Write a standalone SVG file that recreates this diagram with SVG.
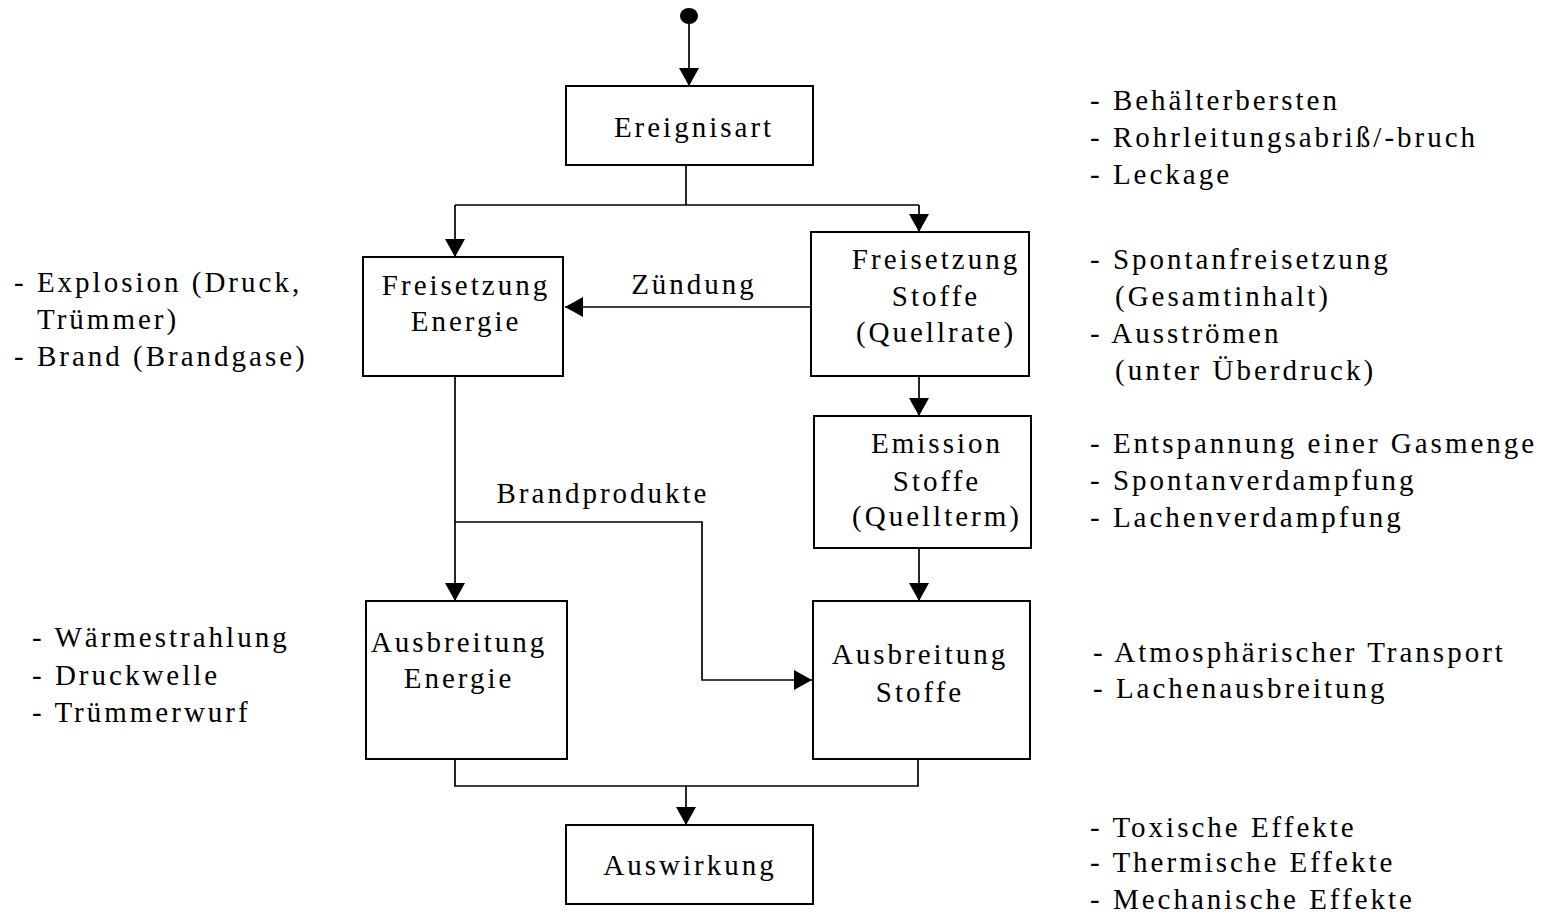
<svg xmlns="http://www.w3.org/2000/svg" width="1542" height="915" viewBox="0 0 1542 915">
<style>
text{font-family:"Liberation Serif","Times New Roman",serif;font-size:29px;letter-spacing:3px;fill:#000}
.c{text-anchor:middle}
.box{fill:#fff;stroke:#000;stroke-width:2}
.ln{fill:none;stroke:#000;stroke-width:1.7}
</style>
<defs>
<marker id="ah" markerUnits="userSpaceOnUse" markerWidth="18" markerHeight="20" viewBox="0 0 18 20" refX="18" refY="10" orient="auto">
<path d="M0,0 L18,10 L0,20 z" fill="#000"/>
</marker>
</defs>
<rect width="1542" height="915" fill="#fff"/>
<g id="connectors">
<ellipse cx="689" cy="16" rx="9" ry="8" fill="#000"/>
<path class="ln" d="M689,24 V86" marker-end="url(#ah)"/>
<path class="ln" d="M686,165 V205 M455,205 H919"/>
<path class="ln" d="M455,205 V257" marker-end="url(#ah)"/>
<path class="ln" d="M919,205 V232" marker-end="url(#ah)"/>
<path class="ln" d="M813,307 H565" marker-end="url(#ah)"/>
<path class="ln" d="M919,376 V416" marker-end="url(#ah)"/>
<path class="ln" d="M919,548 V601" marker-end="url(#ah)"/>
<path class="ln" d="M455,376 V601" marker-end="url(#ah)"/>
<path class="ln" d="M455,522 H702 V680 H812" marker-end="url(#ah)"/>
<path class="ln" d="M455,759 V786 H918 V759"/>
<path class="ln" d="M686,786 V825" marker-end="url(#ah)"/>
<text x="694" y="294" class="c">Zündung</text>
<text x="603" y="503" class="c">Brandprodukte</text>
</g>
<g id="ereignisart">
<rect class="box" x="566" y="86" width="247" height="79"/>
<text x="694" y="137" class="c">Ereignisart</text>
</g>
<g id="freisetzung-energie">
<rect class="box" x="363" y="257" width="200" height="119"/>
<text x="466" y="295" class="c">Freisetzung</text>
<text x="466" y="331" class="c">Energie</text>
</g>
<g id="freisetzung-stoffe">
<rect class="box" x="811" y="232" width="218" height="144"/>
<text x="936" y="269" class="c">Freisetzung</text>
<text x="936" y="306" class="c">Stoffe</text>
<text x="936" y="342" class="c">(Quellrate)</text>
</g>
<g id="emission-stoffe">
<rect class="box" x="814" y="416" width="217" height="132"/>
<text x="937" y="453" class="c">Emission</text>
<text x="937" y="491" class="c">Stoffe</text>
<text x="937" y="526" class="c">(Quellterm)</text>
</g>
<g id="ausbreitung-energie">
<rect class="box" x="366" y="601" width="201" height="158"/>
<text x="459" y="652" class="c">Ausbreitung</text>
<text x="459" y="688" class="c">Energie</text>
</g>
<g id="ausbreitung-stoffe">
<rect class="box" x="813" y="601" width="217" height="158"/>
<text x="920" y="664" class="c">Ausbreitung</text>
<text x="920" y="702" class="c">Stoffe</text>
</g>
<g id="auswirkung">
<rect class="box" x="566" y="825" width="247" height="79"/>
<text x="690" y="875" class="c">Auswirkung</text>
</g>
<g id="notes-left">
<text x="14" y="292">- Explosion (Druck,</text>
<text x="37" y="329">Trümmer)</text>
<text x="14" y="366">- Brand (Brandgase)</text>
<text x="32" y="647">- Wärmestrahlung</text>
<text x="32" y="685">- Druckwelle</text>
<text x="32" y="722">- Trümmerwurf</text>
</g>
<g id="notes-right">
<text x="1090" y="110">- Behälterbersten</text>
<text x="1090" y="147">- Rohrleitungsabriß/-bruch</text>
<text x="1090" y="184">- Leckage</text>
<text x="1090" y="269">- Spontanfreisetzung</text>
<text x="1115" y="306">(Gesamtinhalt)</text>
<text x="1090" y="343">- Ausströmen</text>
<text x="1115" y="380">(unter Überdruck)</text>
<text x="1090" y="453">- Entspannung einer Gasmenge</text>
<text x="1090" y="490">- Spontanverdampfung</text>
<text x="1090" y="527">- Lachenverdampfung</text>
<text x="1093" y="662">- Atmosphärischer Transport</text>
<text x="1093" y="698">-  Lachenausbreitung</text>
<text x="1090" y="837">- Toxische Effekte</text>
<text x="1090" y="872">- Thermische Effekte</text>
<text x="1090" y="909">- Mechanische Effekte</text>
</g>
</svg>
